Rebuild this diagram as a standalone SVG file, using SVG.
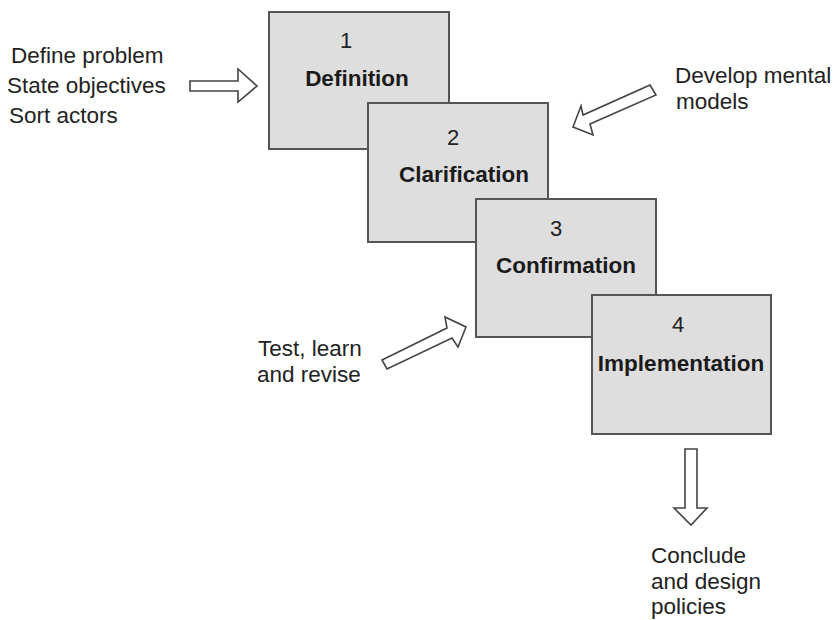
<svg xmlns="http://www.w3.org/2000/svg" width="834" height="620" viewBox="0 0 834 620">
<style>
.box{fill:#dedede;stroke:#555;stroke-width:2}
.num{font-family:"Liberation Sans",Arial,sans-serif;font-size:22px;fill:#222;text-anchor:middle}
.lbl{font-family:"Liberation Sans",Arial,sans-serif;font-size:22.5px;font-weight:bold;fill:#1a1a1a;text-anchor:middle}
.txt{font-family:"Liberation Sans",Arial,sans-serif;font-size:22.5px;fill:#222}
.arr{fill:#fff;stroke:#444;stroke-width:1.6;stroke-linejoin:miter}
</style>
<rect width="834" height="620" fill="#fff"/>
<g id="node1">
<rect class="box" x="269" y="12" width="180" height="137"/>
<text class="num" x="346" y="48">1</text>
<text class="lbl" x="357" y="86">Definition</text>
</g>
<g id="node2">
<rect class="box" x="368" y="103" width="180" height="139"/>
<text class="num" x="453" y="145">2</text>
<text class="lbl" x="464" y="182">Clarification</text>
</g>
<g id="node3">
<rect class="box" x="476" y="199" width="180" height="138"/>
<text class="num" x="556" y="236">3</text>
<text class="lbl" x="566" y="273">Confirmation</text>
</g>
<g id="node4">
<rect class="box" x="592" y="295" width="179" height="139"/>
<text class="num" x="678" y="332">4</text>
<text class="lbl" x="681" y="371">Implementation</text>
</g>
<g id="connectors">
<polygon class="arr" points="190,81 238,81 238,69 257,86 238,102 238,91 190,91"/>
<polygon class="arr" points="650,85 583,115 581,106 573,127 593,135 590,124 656,95"/>
<polygon class="arr" points="382,360 447,328 445,317 466,327 458,347 452,338 387,369"/>
<polygon class="arr" points="685,449 697,449 697,508 707,508 691,525 674,508 685,508"/>
</g>
<g id="labels">
<text class="txt" x="11" y="63">Define problem</text>
<text class="txt" x="7" y="93">State objectives</text>
<text class="txt" x="9" y="123">Sort actors</text>
<text class="txt" x="675" y="83">Develop mental</text>
<text class="txt" x="676" y="109">models</text>
<text class="txt" x="258" y="356">Test, learn</text>
<text class="txt" x="257" y="382">and revise</text>
<text class="txt" x="651" y="563">Conclude</text>
<text class="txt" x="651" y="589">and design</text>
<text class="txt" x="651" y="614">policies</text>
</g>
</svg>
